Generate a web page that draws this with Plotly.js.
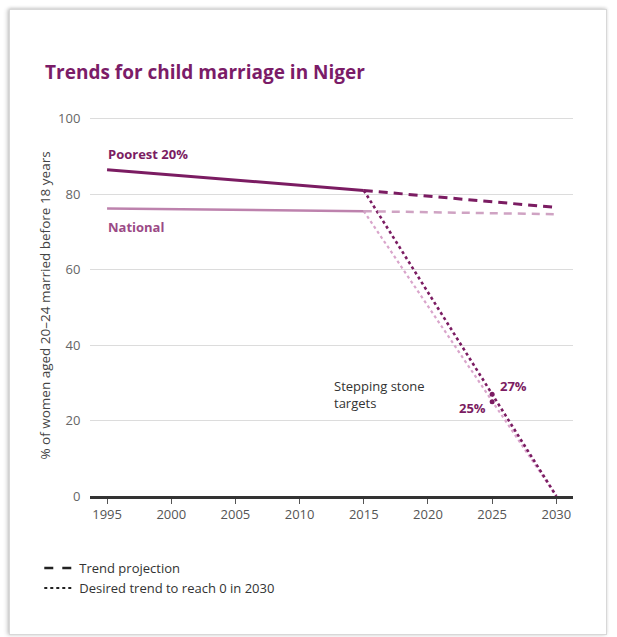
<!DOCTYPE html>
<html><head><meta charset="utf-8">
<script src="https://cdn.plot.ly/plotly-3.0.1.min.js"></script>
<style>
body{margin:0;background:#fff;}
#wrap{position:relative;width:617px;height:637px;overflow:hidden;background:#fff;}
#frame{position:absolute;left:9px;top:9px;width:596px;height:624px;border:1px solid #d8d8d8;box-shadow:-2px 0 4px rgba(0,0,0,0.18),0 -1px 3px rgba(0,0,0,0.12);background:#fff;}
#chart{position:absolute;left:0;top:0;width:617px;height:637px;}
</style></head>
<body><div id="wrap"><div id="frame"></div><div id="chart"></div></div>
<script>
// Observed
const obsYears = [1995, 2015];
const poorestObs = [86.5, 81];
const nationalObs = [76.2, 75.5];
// Trend projection
const projYears = [2015, 2030];
const poorestProj = [81, 76.5];
const nationalProj = [75.5, 74.7];
// Desired trend to reach 0 in 2030
const desiredYears = [2015, 2025, 2030];
const poorestDesired = [81, 27, 0];
const nationalDesired = [75.5, 25, 0];
// Stepping stone targets
const targetYears = [2025, 2025];
const targetValues = [27, 25];
const targetLabels = ['27%', '25%'];
const xTicks = [1995, 2000, 2005, 2010, 2015, 2020, 2025, 2030];
const yTicks = [0, 20, 40, 60, 80, 100];

const DARK = '#7b1c62';
const LIGHT = '#bd82ad';
const LIGHT2 = '#cfa3c3';
const FONT = 'Open Sans, Noto Sans, sans-serif';

const traces = [
  {x: desiredYears, y: nationalDesired, mode:'lines', line:{color:'#d9a5cb', width:2.2, dash:'dot'}, showlegend:false, hoverinfo:'skip'},
  {x: desiredYears, y: poorestDesired, mode:'lines', line:{color:DARK, width:2.6, dash:'dot'}, showlegend:false, hoverinfo:'skip'},
  {x: obsYears, y: nationalObs, mode:'lines', line:{color:LIGHT, width:2.5}, showlegend:false},
  {x: projYears, y: nationalProj, mode:'lines', line:{color:LIGHT2, width:2.5, dash:'8px,6px'}, showlegend:false},
  {x: obsYears, y: poorestObs, mode:'lines', line:{color:DARK, width:3}, showlegend:false},
  {x: projYears, y: poorestProj, mode:'lines', line:{color:DARK, width:3, dash:'9px,6px'}, showlegend:false},
  {x: targetYears, y: targetValues, mode:'markers', marker:{color:DARK, size:5}, showlegend:false},
  {x:[null], y:[null], mode:'lines', name:'Trend projection', line:{color:'#222', width:2.5, dash:'dash'}},
  {x:[null], y:[null], mode:'lines', name:'Desired trend to reach 0 in 2030', line:{color:'#222', width:2, dash:'dot'}}
];

const annotations = [
  {x: obsYears[0], y: poorestObs[0], text:'<b>Poorest 20%</b>', xanchor:'left', yanchor:'middle', xshift:-1, yshift:16, showarrow:false, font:{family:FONT, size:13, color:DARK}},
  {x: obsYears[0], y: nationalObs[0], text:'<b>National</b>', xanchor:'left', yanchor:'middle', xshift:-1, yshift:-18, showarrow:false, font:{family:FONT, size:13, color:'#9b4a86'}},
  {x: 2012.5, y: 27, text:'Stepping stone<br>targets', xanchor:'left', yanchor:'middle', align:'left', showarrow:false, font:{family:FONT, size:13, color:'#333'}},
  {x: targetYears[0], y: targetValues[0], text:'<b>'+targetLabels[0]+'</b>', xanchor:'left', yanchor:'middle', xshift:6, yshift:8, showarrow:false, font:{family:FONT, size:13, color:DARK}},
  {x: targetYears[1], y: targetValues[1], text:'<b>'+targetLabels[1]+'</b>', xanchor:'right', yanchor:'middle', xshift:-4, yshift:-6, showarrow:false, font:{family:FONT, size:13, color:DARK}}
];

const layout = {
  width:617, height:637,
  margin:{l:90, r:44, t:115, b:141},
  paper_bgcolor:'rgba(0,0,0,0)', plot_bgcolor:'rgba(0,0,0,0)',
  title:{text:'<b>Trends for child marriage in Niger</b>', xref:'container', yref:'container', x:0.073, xanchor:'left', y:1-72/637, yanchor:'middle', font:{family:FONT, size:19, color:'#7b1c68'}},
  xaxis:{range:[1993.67, 2031.3], tickvals:xTicks, ticks:'outside', ticklen:5, tickwidth:1, tickcolor:'#555', showgrid:false, zeroline:false, showline:true, linecolor:'#333', linewidth:2.5, tickfont:{family:FONT, size:13, color:'#555'}, fixedrange:true},
  yaxis:{range:[0, 101], tickvals:yTicks, ticks:'outside', ticklen:6, tickcolor:'rgba(0,0,0,0)', showgrid:true, gridcolor:'#dcdcdc', gridwidth:1, zeroline:false, showline:false, tickfont:{family:FONT, size:13, color:'#666'},
    title:{text:'% of women aged 20–24 married before 18 years', font:{family:FONT, size:13.5, color:'#444'}, standoff:4}, fixedrange:true},
  showlegend:true,
  legend:{x:-0.105, xanchor:'left', y:-0.15, yanchor:'top', orientation:'v', font:{family:FONT, size:13, color:'#333'}, bgcolor:'rgba(0,0,0,0)', itemwidth:30, tracegroupgap:0},
  annotations: annotations
};
Plotly.newPlot('chart', traces, layout, {displayModeBar:false, staticPlot:true});
</script></body></html>
